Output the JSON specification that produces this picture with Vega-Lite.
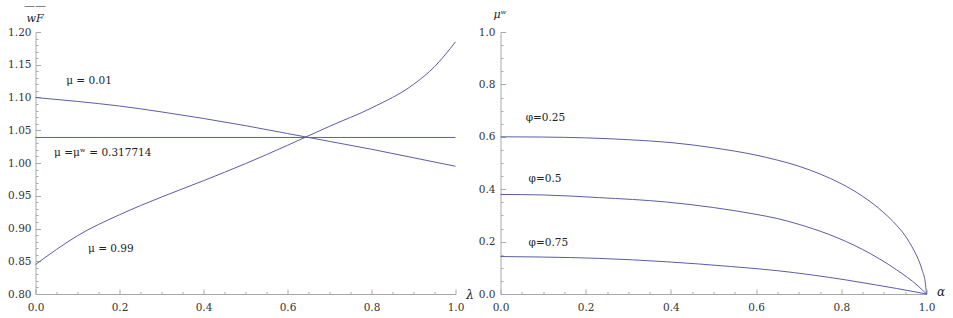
{
  "$schema": "https://vega.github.io/schema/vega-lite/v6.json",
  "padding": {"left": 7.5, "top": -1, "right": 5, "bottom": 3},
  "background": "white",
  "bounds": "flush",
  "spacing": 45,
  "config": {
    "font": "DejaVu Serif",
    "view": {"stroke": null},
    "text": {"font": "DejaVu Serif"},
    "axis": {
      "grid": false,
      "domainColor": "#a8a8a8",
      "tickColor": "#a8a8a8",
      "labelColor": "#333333",
      "labelFont": "DejaVu Serif",
      "labelFontSize": 10.5,
      "labelFlush": false,
      "labelOverlap": false,
      "titleFont": "DejaVu Serif",
      "titleFontWeight": "normal",
      "titleColor": "#222222",
      "titleAngle": 0
    }
  },
  "datasets": {
    "left": [
      {"series": "mu001", "lam": 0.0, "w": 1.100},
      {"series": "mu001", "lam": 0.1, "w": 1.094},
      {"series": "mu001", "lam": 0.2, "w": 1.087},
      {"series": "mu001", "lam": 0.3, "w": 1.078},
      {"series": "mu001", "lam": 0.4, "w": 1.068},
      {"series": "mu001", "lam": 0.5, "w": 1.057},
      {"series": "mu001", "lam": 0.6, "w": 1.045},
      {"series": "mu001", "lam": 0.7, "w": 1.033},
      {"series": "mu001", "lam": 0.8, "w": 1.021},
      {"series": "mu001", "lam": 0.9, "w": 1.008},
      {"series": "mu001", "lam": 1.0, "w": 0.995},
      {"series": "muw", "lam": 0.0, "w": 1.039},
      {"series": "muw", "lam": 1.0, "w": 1.039},
      {"series": "mu099", "lam": 0.0, "w": 0.845},
      {"series": "mu099", "lam": 0.05, "w": 0.868},
      {"series": "mu099", "lam": 0.1, "w": 0.889},
      {"series": "mu099", "lam": 0.2, "w": 0.921},
      {"series": "mu099", "lam": 0.3, "w": 0.948},
      {"series": "mu099", "lam": 0.4, "w": 0.973},
      {"series": "mu099", "lam": 0.5, "w": 0.999},
      {"series": "mu099", "lam": 0.6, "w": 1.027},
      {"series": "mu099", "lam": 0.7, "w": 1.056},
      {"series": "mu099", "lam": 0.8, "w": 1.084},
      {"series": "mu099", "lam": 0.9, "w": 1.120},
      {"series": "mu099", "lam": 0.95, "w": 1.147},
      {"series": "mu099", "lam": 1.0, "w": 1.185}
    ],
    "leftLabels": [
      {"label": "μ = 0.01", "lam": 0.073, "w": 1.125},
      {"label": "μ =μʷ = 0.317714", "lam": 0.044, "w": 1.015},
      {"label": "μ = 0.99", "lam": 0.125, "w": 0.868}
    ],
    "right": [
      {"series": "phi025", "alpha": 0.0, "mu": 0.600},
      {"series": "phi025", "alpha": 0.1, "mu": 0.599},
      {"series": "phi025", "alpha": 0.2, "mu": 0.596},
      {"series": "phi025", "alpha": 0.3, "mu": 0.589},
      {"series": "phi025", "alpha": 0.4, "mu": 0.578},
      {"series": "phi025", "alpha": 0.5, "mu": 0.558},
      {"series": "phi025", "alpha": 0.6, "mu": 0.530},
      {"series": "phi025", "alpha": 0.65, "mu": 0.511},
      {"series": "phi025", "alpha": 0.7, "mu": 0.488},
      {"series": "phi025", "alpha": 0.75, "mu": 0.458},
      {"series": "phi025", "alpha": 0.8, "mu": 0.421},
      {"series": "phi025", "alpha": 0.85, "mu": 0.373},
      {"series": "phi025", "alpha": 0.9, "mu": 0.310},
      {"series": "phi025", "alpha": 0.93, "mu": 0.262},
      {"series": "phi025", "alpha": 0.95, "mu": 0.222},
      {"series": "phi025", "alpha": 0.97, "mu": 0.168},
      {"series": "phi025", "alpha": 0.98, "mu": 0.135},
      {"series": "phi025", "alpha": 0.99, "mu": 0.090},
      {"series": "phi025", "alpha": 0.997, "mu": 0.045},
      {"series": "phi025", "alpha": 1.0, "mu": 0.0},
      {"series": "phi05", "alpha": 0.0, "mu": 0.380},
      {"series": "phi05", "alpha": 0.1, "mu": 0.378},
      {"series": "phi05", "alpha": 0.23, "mu": 0.368},
      {"series": "phi05", "alpha": 0.39, "mu": 0.351},
      {"series": "phi05", "alpha": 0.5, "mu": 0.330},
      {"series": "phi05", "alpha": 0.6, "mu": 0.304},
      {"series": "phi05", "alpha": 0.65, "mu": 0.288},
      {"series": "phi05", "alpha": 0.7, "mu": 0.266},
      {"series": "phi05", "alpha": 0.77, "mu": 0.228},
      {"series": "phi05", "alpha": 0.85, "mu": 0.170},
      {"series": "phi05", "alpha": 0.93, "mu": 0.092},
      {"series": "phi05", "alpha": 0.98, "mu": 0.031},
      {"series": "phi05", "alpha": 1.0, "mu": 0.0},
      {"series": "phi075", "alpha": 0.0, "mu": 0.143},
      {"series": "phi075", "alpha": 0.1, "mu": 0.141},
      {"series": "phi075", "alpha": 0.23, "mu": 0.136},
      {"series": "phi075", "alpha": 0.39, "mu": 0.123},
      {"series": "phi075", "alpha": 0.54, "mu": 0.105},
      {"series": "phi075", "alpha": 0.65, "mu": 0.089},
      {"series": "phi075", "alpha": 0.73, "mu": 0.073},
      {"series": "phi075", "alpha": 0.81, "mu": 0.054},
      {"series": "phi075", "alpha": 0.88, "mu": 0.035},
      {"series": "phi075", "alpha": 0.93, "mu": 0.021},
      {"series": "phi075", "alpha": 1.0, "mu": 0.0}
    ],
    "rightLabels": [
      {"label": "φ=0.25", "alpha": 0.059, "mu": 0.672},
      {"label": "φ=0.5", "alpha": 0.066, "mu": 0.44},
      {"label": "φ=0.75", "alpha": 0.066, "mu": 0.193}
    ]
  },
  "hconcat": [
    {
      "width": 420,
      "height": 262,
      "encoding": {
        "x": {
          "field": "lam", "type": "quantitative",
          "scale": {"domain": [0, 1], "nice": false, "zero": false},
          "axis": {
            "values": [0,0.05,0.1,0.15,0.2,0.25,0.3,0.35,0.4,0.45,0.5,0.55,0.6,0.65,0.7,0.75,0.8,0.85,0.9,0.95,1],
            "labelExpr": "abs(datum.value*5 - round(datum.value*5)) < 1e-6 ? format(datum.value, '.1f') : ''",
            "tickSize": {"condition": {"test": "abs(datum.value*5 - round(datum.value*5)) < 1e-6", "value": -5}, "value": -2.5},
            "labelPadding": 13,
            "title": "λ",
            "titleFontStyle": "italic",
            "titleFontSize": 12,
            "titleX": 434,
            "titleY": 0,
            "titleAlign": "center",
            "titleBaseline": "middle"
          }
        },
        "y": {
          "field": "w", "type": "quantitative",
          "scale": {"domain": [0.8, 1.2], "nice": false, "zero": false},
          "axis": {
            "values": [0.8,0.81,0.82,0.83,0.84,0.85,0.86,0.87,0.88,0.89,0.9,0.91,0.92,0.93,0.94,0.95,0.96,0.97,0.98,0.99,1,1.01,1.02,1.03,1.04,1.05,1.06,1.07,1.08,1.09,1.1,1.11,1.12,1.13,1.14,1.15,1.16,1.17,1.18,1.19,1.2],
            "labelExpr": "abs(datum.value*20 - round(datum.value*20)) < 1e-6 ? format(datum.value, '.2f') : ''",
            "tickSize": {"condition": {"test": "abs(datum.value*20 - round(datum.value*20)) < 1e-6", "value": -5}, "value": -2.5},
            "labelPadding": 9.5,
            "title": ["——", "wF"],
            "titleFontStyle": "italic",
            "titleFontSize": 11,
            "titleLineHeight": 13,
            "titleX": -1,
            "titleY": -22,
            "titleAlign": "center",
            "titleBaseline": "bottom"
          }
        }
      },
      "layer": [
        {
          "data": {"name": "left"},
          "mark": {"type": "line", "color": "#5c5ca6", "strokeWidth": 1, "interpolate": "monotone"},
          "encoding": {"detail": {"field": "series"}}
        },
        {
          "data": {"name": "leftLabels"},
          "mark": {"type": "text", "align": "left", "baseline": "middle", "fontSize": 10.5, "color": "#222222"},
          "encoding": {"text": {"field": "label"}}
        }
      ]
    },
    {
      "width": 426,
      "height": 262,
      "encoding": {
        "x": {
          "field": "alpha", "type": "quantitative",
          "scale": {"domain": [0, 1], "nice": false, "zero": false},
          "axis": {
            "values": [0,0.05,0.1,0.15,0.2,0.25,0.3,0.35,0.4,0.45,0.5,0.55,0.6,0.65,0.7,0.75,0.8,0.85,0.9,0.95,1],
            "labelExpr": "abs(datum.value*5 - round(datum.value*5)) < 1e-6 ? format(datum.value, '.1f') : ''",
            "tickSize": {"condition": {"test": "abs(datum.value*5 - round(datum.value*5)) < 1e-6", "value": -5}, "value": -2.5},
            "labelPadding": 13,
            "title": "α",
            "titleFontStyle": "italic",
            "titleFontSize": 12,
            "titleX": 440,
            "titleY": -3,
            "titleAlign": "center",
            "titleBaseline": "middle"
          }
        },
        "y": {
          "field": "mu", "type": "quantitative",
          "scale": {"domain": [0, 1], "nice": false, "zero": false},
          "axis": {
            "values": [0,0.05,0.1,0.15,0.2,0.25,0.3,0.35,0.4,0.45,0.5,0.55,0.6,0.65,0.7,0.75,0.8,0.85,0.9,0.95,1],
            "labelExpr": "abs(datum.value*5 - round(datum.value*5)) < 1e-6 ? format(datum.value, '.1f') : ''",
            "tickSize": {"condition": {"test": "abs(datum.value*5 - round(datum.value*5)) < 1e-6", "value": -5}, "value": -2.5},
            "labelPadding": 10.5,
            "title": "μʷ",
            "titleFontStyle": "italic",
            "titleFontSize": 11,
            "titleX": -1,
            "titleY": -13,
            "titleAlign": "center",
            "titleBaseline": "bottom"
          }
        }
      },
      "layer": [
        {
          "data": {"name": "right"},
          "mark": {"type": "line", "color": "#5c5ca6", "strokeWidth": 1, "interpolate": "monotone"},
          "encoding": {"detail": {"field": "series"}}
        },
        {
          "data": {"name": "rightLabels"},
          "mark": {"type": "text", "align": "left", "baseline": "middle", "fontSize": 10.5, "color": "#222222"},
          "encoding": {"text": {"field": "label"}}
        }
      ]
    }
  ]
}
